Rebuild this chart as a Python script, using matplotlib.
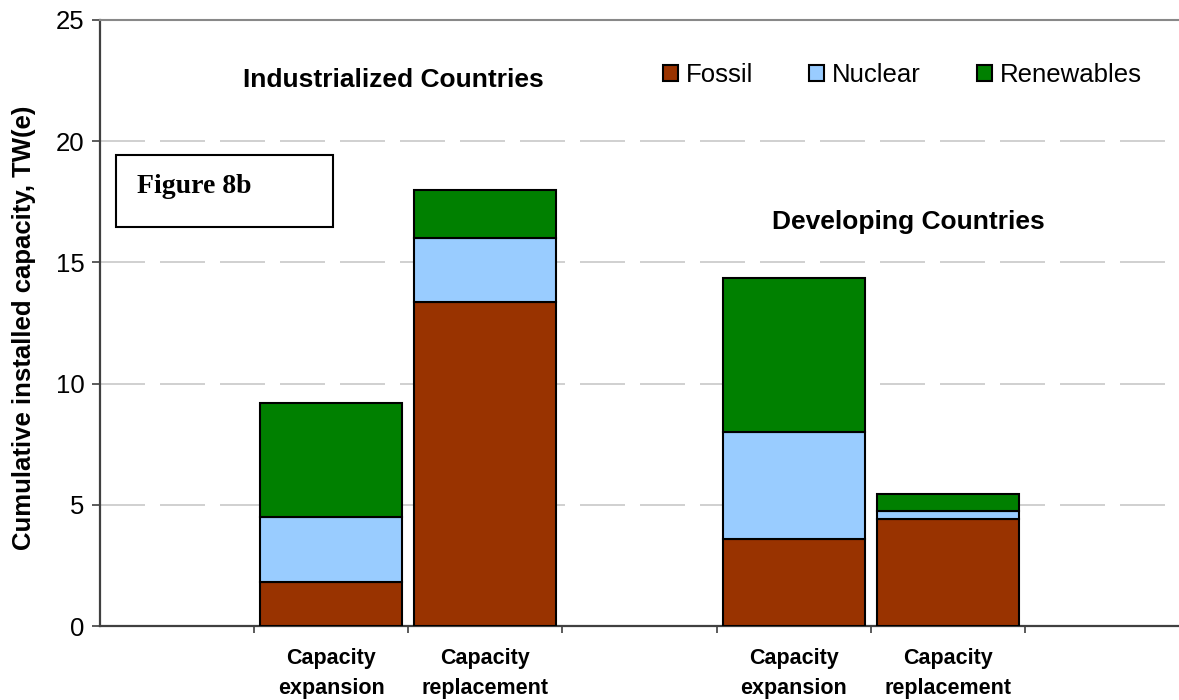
"""Stacked bar chart of cumulative installed capacity by source."""

import matplotlib
matplotlib.use("Agg")
import matplotlib.pyplot as plt
import numpy as np
from matplotlib.patches import Rectangle

# Category slots along the x axis; blank entries are empty spacer slots
categories = ['', 'Capacity\nexpansion', 'Capacity\nreplacement', '',
              'Capacity\nexpansion', 'Capacity\nreplacement', '']
region_names = ['Industrialized Countries', 'Developing Countries']

# Installed capacity, TW(e), one value per non-blank slot
fossil = [1.8, 13.35, 3.6, 4.4]
nuclear = [2.7, 2.65, 4.4, 0.35]
renewables = [4.7, 2.0, 6.35, 0.7]

series_names = ['Fossil', 'Nuclear', 'Renewables']
series_colors = ['#993300', '#99CCFF', '#008000']

plt.rcParams['font.family'] = ['Liberation Sans', 'DejaVu Sans']


def plot_capacity(out_file: str = "out.png"):
    """Draw the stacked capacity bars and save the figure."""
    fig = plt.figure(figsize=(11.79, 7), dpi=100)
    ax = fig.add_axes([100 / 1179, 74 / 700, 1079 / 1179, 606 / 700])

    slots = [i for i, c in enumerate(categories) if c]
    x = np.array(slots, dtype=float)
    bottom = np.zeros(len(slots))

    for name, values, color in zip(series_names, [fossil, nuclear, renewables], series_colors):
        ax.bar(x, values, width=0.92, bottom=bottom, color=color,
               edgecolor='black', linewidth=1.5, label=name, zorder=3)
        bottom += np.array(values)

    # Axes limits and ticks
    ax.set_xlim(-0.5, len(categories) - 0.5)
    ax.set_ylim(0, 25)
    ax.set_yticks(np.arange(0, 26, 5))
    ax.tick_params(axis='y', labelsize=18.5, length=6, width=1.2,
                   direction='out', color='#404040', pad=5)

    ax.set_xticks(x)
    ax.set_xticklabels([categories[i] for i in slots], fontsize=15.5,
                       fontweight='bold', linespacing=1.55)
    ax.tick_params(axis='x', which='major', length=0, pad=16)
    ax.set_xticks(np.arange(0.5, len(categories) - 1), minor=True)
    ax.tick_params(axis='x', which='minor', length=5, width=1.2,
                   direction='out', color='#404040')

    # Dashed horizontal gridlines
    ax.set_axisbelow(True)
    for y in [5, 10, 15, 20]:
        ax.axhline(y, color='#c8c8c8', linewidth=1.2,
                   linestyle=(0, (27, 9)), zorder=1)

    for side in ['left', 'bottom']:
        ax.spines[side].set_color('#404040')
        ax.spines[side].set_linewidth(1.6)
    ax.spines['top'].set_color('#888888')
    ax.spines['top'].set_linewidth(1.5)
    ax.spines['right'].set_visible(False)

    ax.set_ylabel('Cumulative installed capacity, TW(e)', fontsize=18.5,
                  fontweight='bold')
    ax.yaxis.set_label_coords(-0.059, 0.492)

    # Region headings
    ax.text(0.2715, 0.901, region_names[0], transform=ax.transAxes,
            ha='center', va='center', fontsize=19, fontweight='bold')
    ax.text(0.749, 0.667, region_names[1], transform=ax.transAxes,
            ha='center', va='center', fontsize=19, fontweight='bold')

    # Figure tag in a framed box
    ax.add_patch(Rectangle((0.0148, 0.658), 0.201, 0.119, transform=ax.transAxes,
                           facecolor='white', edgecolor='black', linewidth=1.5,
                           zorder=4))
    ax.text(0.0343, 0.7145, 'Figure 8b', transform=ax.transAxes, ha='left',
            va='baseline', fontsize=20, fontweight='bold',
            family=['Liberation Serif', 'DejaVu Serif'], zorder=5)

    ax.legend(loc='center left', bbox_to_anchor=(0.5218, 0.909), ncol=3,
              frameon=False, fontsize=18.5, handlelength=0.58, handleheight=0.58,
              handletextpad=0.31, columnspacing=2.18, borderpad=0,
              borderaxespad=0)

    plt.savefig(out_file, dpi=100)
    plt.close(fig)


if __name__ == "__main__":
    plot_capacity()
